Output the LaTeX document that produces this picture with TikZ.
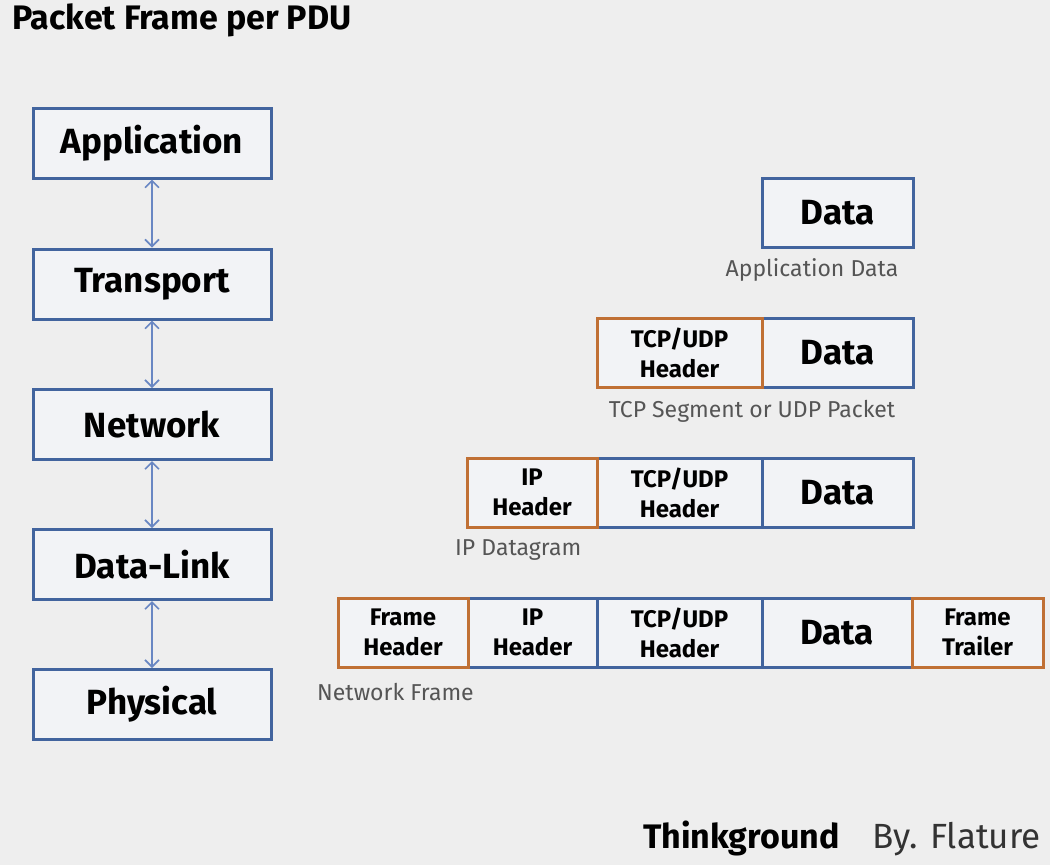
\documentclass[tikz,border=0pt]{standalone}
\usepackage{fontspec}
\setmainfont{Fira Sans}
\usetikzlibrary{arrows.meta}
\definecolor{bg}{RGB}{238,238,238}
\definecolor{boxfill}{RGB}{242,243,246}
\definecolor{bblue}{RGB}{66,100,158}
\definecolor{borange}{RGB}{192,112,52}
\definecolor{ablue}{RGB}{105,135,195}
\definecolor{lgray}{RGB}{85,85,85}
\tikzset{
  layer/.style={draw=bblue, fill=boxfill, line width=3pt, minimum width=238pt, minimum height=70pt, inner sep=0pt,
    font=\fontsize{35}{40}\selectfont\bfseries},
  bluebox/.style={draw=bblue, fill=boxfill, line width=3pt, minimum height=69pt, inner sep=0pt, align=center,
    font=\fontsize{24}{30}\selectfont\bfseries},
  orangebox/.style={bluebox, draw=borange},
  databox/.style={bluebox, font=\fontsize{35}{40}\selectfont\bfseries},
  caption/.style={text=lgray, inner sep=0pt, font=\fontsize{23}{27}\selectfont},
  link/.style={draw=ablue, line width=1.6pt, {Straight Barb[length=7pt,width=14pt]}-{Straight Barb[length=7pt,width=14pt]}}
}
\begin{document}
\begin{tikzpicture}[x=1pt,y=-1pt]
\fill[bg] (0,0) rectangle (1050,865);
\useasboundingbox (0,0) rectangle (1050,865);
\node[anchor=base west, inner sep=0pt, font=\fontsize{34}{40}\selectfont\bfseries] (title) at (12,29) {Packet Frame per PDU};
% layers
\node[layer] (app) at (152,143) {Application};
\node[layer] (tra) at (152,284) {Transport};
\node[layer] (net) at (152,424.5) {Network};
\node[layer] (dl) at (152,564.5) {Data-Link};
\node[layer] (phy) at (152,704.5) {Physical};
\draw[link] (app.south) -- (tra.north);
\draw[link] (tra.south) -- (net.north);
\draw[link] (net.south) -- (dl.north);
\draw[link] (dl.south) -- (phy.north);
% row 1
\node[databox, minimum width=151pt] (d1) at (837.5,212.5) {Data};
\node[caption] (c1) at (812,270) {Application Data};
% row 2
\node[databox, minimum width=151pt] (d2) at (837.5,352.5) {Data};
\node[orangebox, minimum width=165pt] (t2) at (679.5,352.5) {TCP/UDP\\Header};
\node[caption] (c2) at (752,411) {TCP Segment or UDP Packet};
% row 3
\node[databox, minimum width=151pt] (d3) at (837.5,492.5) {Data};
\node[bluebox, minimum width=165pt] (t3) at (679.5,492.5) {TCP/UDP\\Header};
\node[orangebox, minimum width=130pt] (i3) at (532,492.5) {IP\\Header};
\node[caption, anchor=west] (c3) at (455,550) {IP Datagram};
% row 4
\node[databox, minimum width=150pt] (d4) at (837,632.5) {Data};
\node[bluebox, minimum width=165pt] (t4) at (679.5,632.5) {TCP/UDP\\Header};
\node[bluebox, minimum width=129pt] (i4) at (532.5,632.5) {IP\\Header};
\node[orangebox, minimum width=130pt] (fh) at (403,632.5) {Frame\\Header};
\node[orangebox, minimum width=131pt] (ft) at (977.5,632.5) {Frame\\Trailer};
\node[caption, anchor=west] (c4) at (317,692) {Network Frame};
% footer
\node[anchor=base west, inner sep=0pt, font=\fontsize{34}{40}\selectfont\bfseries] (tg) at (643,848) {Thinkground};
\node[anchor=base west, inner sep=0pt, text=black!80, font=\fontsize{35}{40}\selectfont] (by) at (872,848) {By. Flature};
\end{tikzpicture}
\end{document}
